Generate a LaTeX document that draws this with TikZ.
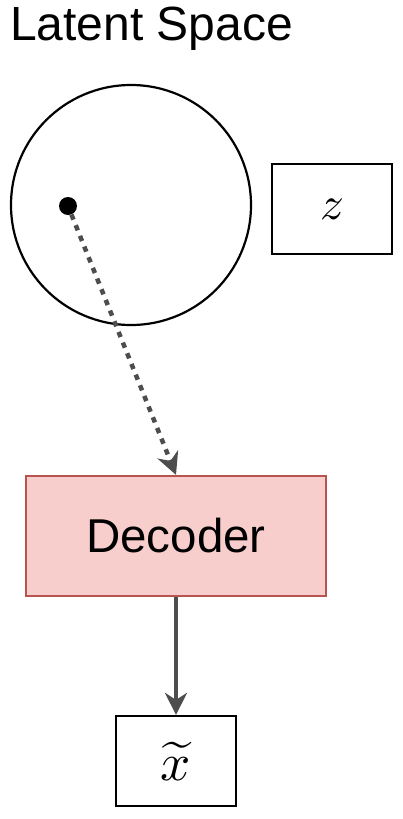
\documentclass[tikz,border=0pt]{standalone}
\usepackage{fontspec}
\setsansfont{Liberation Sans}
\usetikzlibrary{arrows.meta}
\definecolor{decfill}{HTML}{F8CECC}
\definecolor{decdraw}{HTML}{B85450}
\definecolor{arrgray}{HTML}{4D4D4D}
\tikzset{
  plainbox/.style={draw=black, line width=2.2pt, fill=white, inner sep=0pt},
  decbox/.style={draw=decdraw, fill=decfill, line width=2.2pt, inner sep=0pt,
    minimum width=300pt, minimum height=120pt, font=\sffamily\fontsize{47.5}{50}\selectfont},
  conn/.style={draw=arrgray, line width=4.5pt, -{Stealth[length=22pt,width=22pt,inset=7pt]}},
}
\begin{document}
\begin{tikzpicture}[x=1pt,y=-1pt]
\useasboundingbox (0,0) rectangle (403,819);
\node[anchor=base west, inner sep=0pt, font=\sffamily\fontsize{48}{50}\selectfont] (title) at (10,40) {Latent Space};
\node[draw=black, line width=2.2pt, circle, minimum size=240pt, inner sep=0pt] (space) at (131,205) {};
\node[fill=black, circle, minimum size=18pt, inner sep=0pt] (pt) at (68,206) {};
\node[plainbox, minimum width=120pt, minimum height=90pt] (z) at (332,209) {\scalebox{4.7}{$z$}};
\node[decbox] (dec) at (176,536) {Decoder};
\node[plainbox, minimum width=120pt, minimum height=90pt] (xt) at (176,761) {\scalebox{5.3}{$\widetilde{x}$}};
\draw[conn, dash pattern=on 5.5pt off 6pt] (pt) -- (dec.north);
\draw[conn] (dec.south) -- (xt.north);
\end{tikzpicture}
\end{document}
